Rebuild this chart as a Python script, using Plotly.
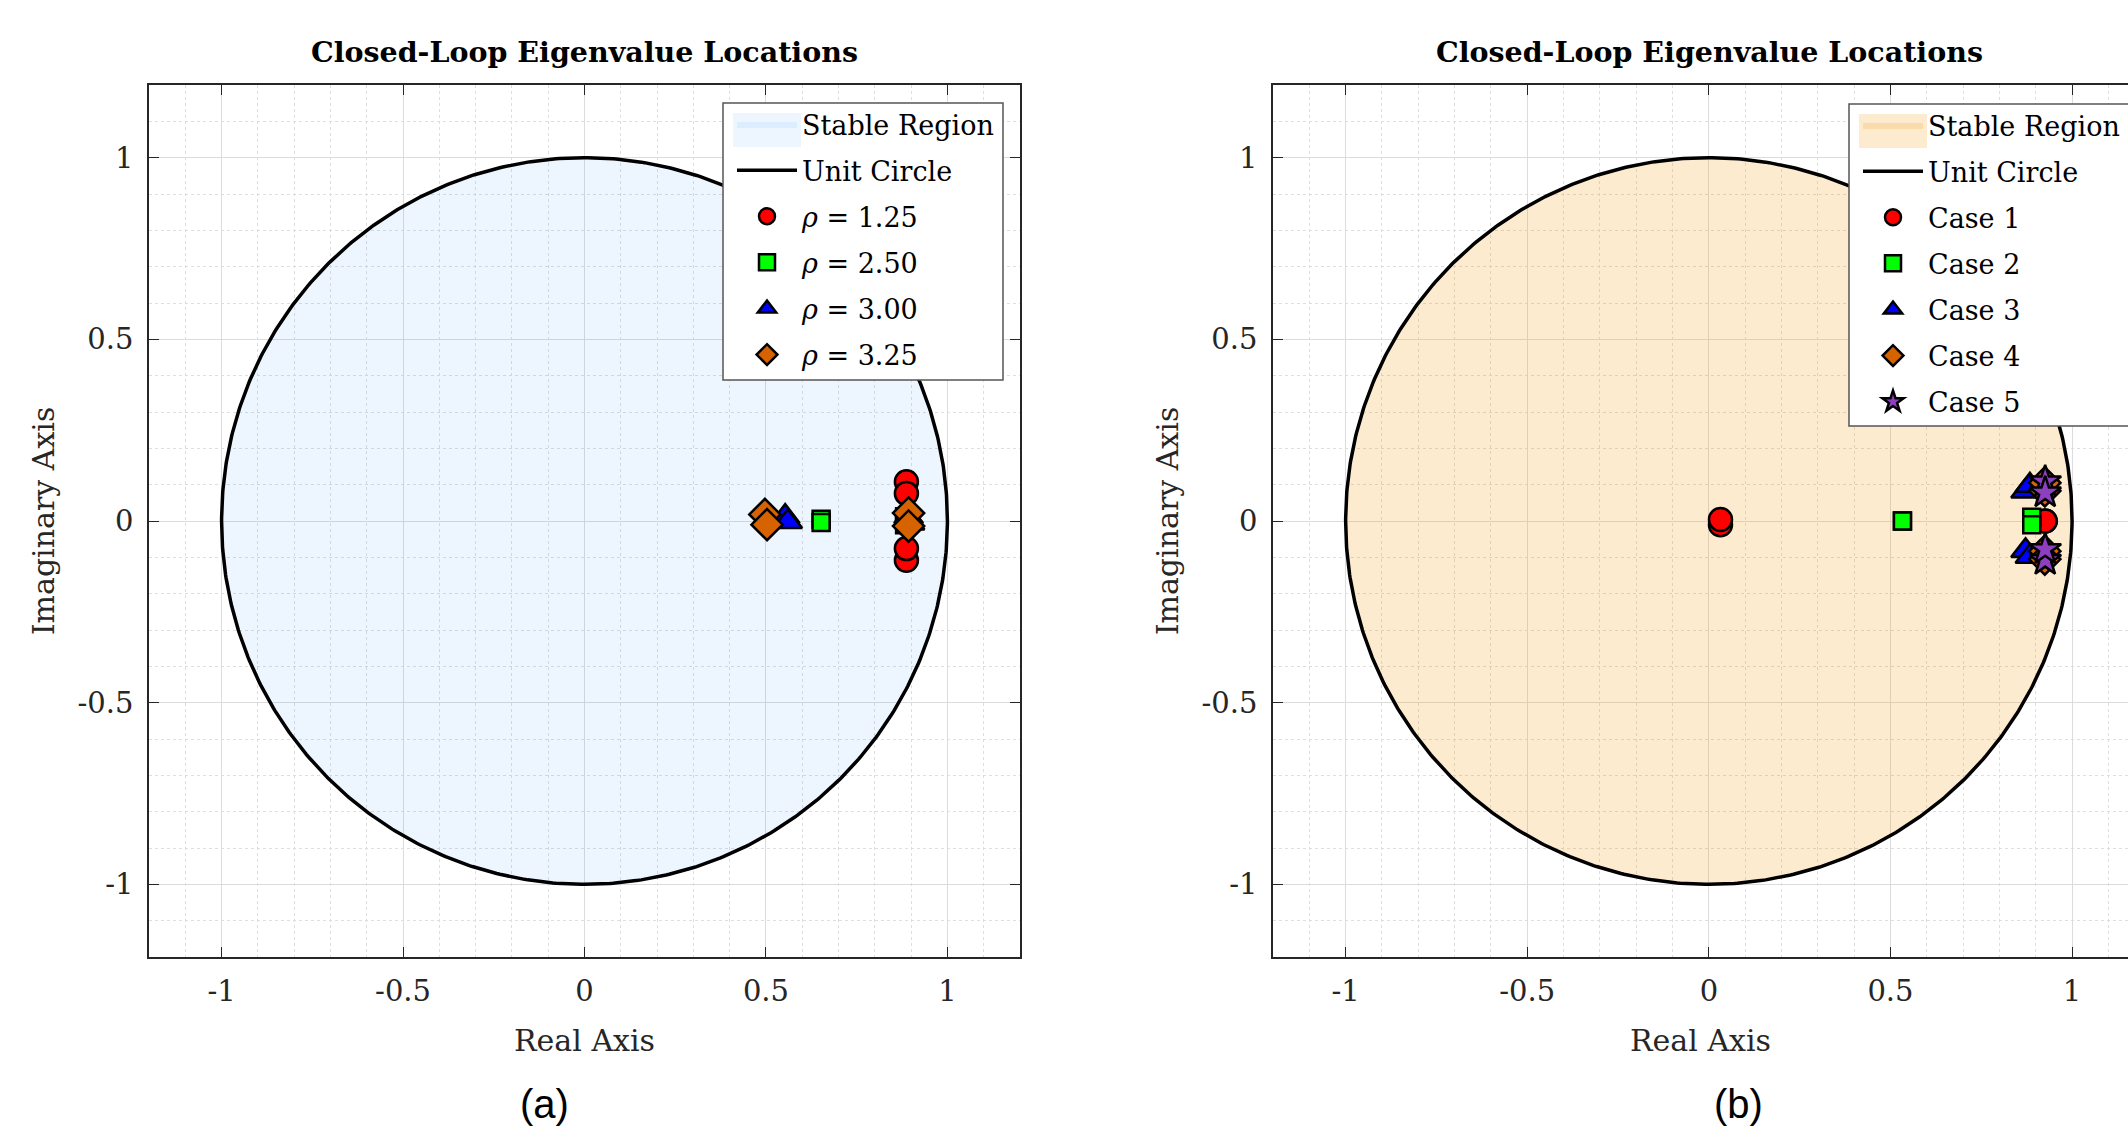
import numpy as np
import plotly.graph_objects as go

# ---------------- data ----------------
tick_vals = [-1, -0.5, 0, 0.5, 1]
tick_text = ["-1", "-0.5", "0", "0.5", "1"]

# panel (a)
left_names = ["<i>ρ</i> = 1.25", "<i>ρ</i> = 2.50", "<i>ρ</i> = 3.00", "<i>ρ</i> = 3.25"]
rho125_re = [0.887, 0.887, 0.887, 0.887]
rho125_im = [0.108, -0.108, 0.076, -0.076]
rho250_re = [0.652, 0.652, 0.882, 0.882]
rho250_im = [0.005, -0.004, 0.012, -0.010]
rho300_re = [0.553, 0.560, 0.893, 0.897]
rho300_im = [0.012, -0.002, 0.012, -0.006]
rho325_re = [0.497, 0.503, 0.893, 0.893]
rho325_im = [0.018, -0.010, 0.022, -0.014]

# panel (b)
right_names = ["Case 1", "Case 2", "Case 3", "Case 4", "Case 5"]
case1_re = [0.032, 0.032, 0.926, 0.926]
case1_im = [-0.010, 0.004, 0.0, 0.0]
case2_re = [0.533, 0.533, 0.889, 0.889]
case2_im = [0.0, 0.0, 0.010, -0.010]
case3_re = [0.872, 0.884, 0.872, 0.884]
case3_im = [0.082, 0.098, -0.082, -0.098]
case4_re = [0.925, 0.925, 0.925, 0.925]
case4_im = [0.083, -0.083, 0.105, -0.105]
case5_re = [0.926, 0.926, 0.926, 0.926]
case5_im = [0.108, -0.108, 0.078, -0.078]

# ---------------- styles ----------------
FONT = "DejaVu Serif"
TXT = "#262626"
sym_styles = [
    dict(symbol="circle", color="#FF0000", size=23),
    dict(symbol="square", color="#00FF00", size=17),
    dict(symbol="triangle-up", color="#0000FF", size=25),
    dict(symbol="diamond", color="#D66200", size=24),
    dict(symbol="star", color="#8E3FC0", size=24),
]
FILL_A = "rgba(30,144,255,0.08)"
FILL_B = "rgba(245,155,20,0.2)"
SWATCH_A = "rgb(237,246,255)"
SWATCH_B = "rgb(253,235,208)"

theta = np.linspace(0, 2 * np.pi, 721)
cx, cy = np.cos(theta), np.sin(theta)

fig = go.Figure()

def add_panel(xa, ya, leg, fillc, names, series):
    fig.add_trace(go.Scatter(x=cx, y=cy, mode="lines", fill="toself", fillcolor=fillc,
                             line=dict(width=0, color=fillc), name="Stable Region", legendgroup=leg + "0",
                             xaxis=xa, yaxis=ya, legend=leg, hoverinfo="skip"))
    fig.add_trace(go.Scatter(x=cx, y=cy, mode="lines", line=dict(color="black", width=3.5),
                             name="Unit Circle", legendgroup=leg + "1",
                             xaxis=xa, yaxis=ya, legend=leg, hoverinfo="skip"))
    for i, (name, (re, im), st) in enumerate(zip(names, series, sym_styles)):
        fig.add_trace(go.Scatter(x=re, y=im, mode="markers", name=name, xaxis=xa, yaxis=ya, legend=leg,
                                 legendgroup=leg + str(i + 2),
                                 marker=dict(symbol=st["symbol"], color=st["color"], size=st["size"],
                                             line=dict(color="black", width=2.5))))

add_panel("x", "y", "legend", FILL_A, left_names,
          [(rho125_re, rho125_im), (rho250_re, rho250_im), (rho300_re, rho300_im), (rho325_re, rho325_im)])
add_panel("x2", "y2", "legend2", FILL_B, right_names,
          [(case1_re, case1_im), (case2_re, case2_im), (case3_re, case3_im),
           (case4_re, case4_im), (case5_re, case5_im)])

W, H = 2128, 1132
MT, MB = 85, 175
PH = H - MT - MB

def px(x):
    return x / W

def py(y):
    return (H - MB - y) / PH

def ax(domain, rng, mirror, title, anchor):
    return dict(domain=domain, range=rng, anchor=anchor, tickvals=tick_vals, ticktext=tick_text,
                showgrid=True, gridcolor="#dcdcdc", gridwidth=1, zeroline=False,
                showline=True, linecolor=TXT, linewidth=1.5, mirror=mirror,
                ticks="inside", ticklen=10, tickcolor=TXT, tickwidth=1.2,
                minor=dict(dtick=0.1, tick0=0, showgrid=True, gridcolor="#dedede", griddash="dot", gridwidth=1),
                tickfont=dict(family=FONT, size=29, color=TXT),
                title=dict(text=title, font=dict(family=FONT, size=30, color=TXT)),
                fixedrange=True)

layout = dict(
    width=W, height=H, margin=dict(l=0, r=0, t=MT, b=MB),
    paper_bgcolor="white", plot_bgcolor="white",
    xaxis=ax([px(149), px(1020)], [-1.2, 1.2], "ticks", "Real Axis", "y"),
    yaxis=ax([0, 1], [-1.2, 1.2], "ticks", "Imaginary Axis", "x"),
    xaxis2=ax([px(1273), 1.0], [-1.2, 1.154], "ticks", "Real Axis", "y2"),
    yaxis2=ax([0, 1], [-1.2, 1.2], False, "Imaginary Axis", "x2"),
)
for k in ["xaxis", "xaxis2"]:
    layout[k]["ticklabelstandoff"] = 7
    layout[k]["title"]["standoff"] = 23
for k in ["yaxis", "yaxis2"]:
    layout[k]["ticklabelstandoff"] = 8
    layout[k]["title"]["standoff"] = 14

leg_common = dict(xanchor="left", yanchor="top", bgcolor="rgba(0,0,0,0)", borderwidth=0,
                  font=dict(family=FONT, size=27, color="black"), itemwidth=60, tracegroupgap=8)
layout["legend"] = dict(x=px(732), y=py(100), **leg_common)
layout["legend2"] = dict(x=px(1858), y=py(101), **leg_common)

# legend boxes and "Stable Region" swatches
shapes = []
for (x0, y0, x1, y1), sw in [((723, 103, 1003, 380), SWATCH_A), ((1849, 104, 2140, 426), SWATCH_B)]:
    shapes.append(dict(type="rect", xref="paper", yref="paper", x0=px(x0), x1=px(x1), y0=py(y1), y1=py(y0),
                       fillcolor="white", line=dict(color="#555555", width=1.5), layer="above"))
    shapes.append(dict(type="rect", xref="paper", yref="paper", x0=px(x0 + 10), x1=px(x0 + 78),
                       y0=py(y0 + 44), y1=py(y0 + 10), fillcolor=sw, line=dict(width=0), layer="above"))
layout["shapes"] = shapes

fig.update_layout(**layout)

for xc in [584, 1709]:
    fig.add_annotation(text="<b>Closed-Loop Eigenvalue Locations</b>", x=px(xc), y=py(52), xref="paper",
                       yref="paper", xanchor="center", yanchor="middle", showarrow=False,
                       font=dict(family=FONT, size=28.5, color="black"))
for xc, lab in [(544, "(a)"), (1738, "(b)")]:
    fig.add_annotation(text=lab, x=px(xc), y=py(1104), xref="paper", yref="paper", xanchor="center",
                       yanchor="middle", showarrow=False, font=dict(family="Liberation Sans", size=40, color="black"))

fig.write_html("out.html", config={"displayModeBar": False},
               post_script="document.body.style.margin='0';document.body.style.overflow='hidden';")
